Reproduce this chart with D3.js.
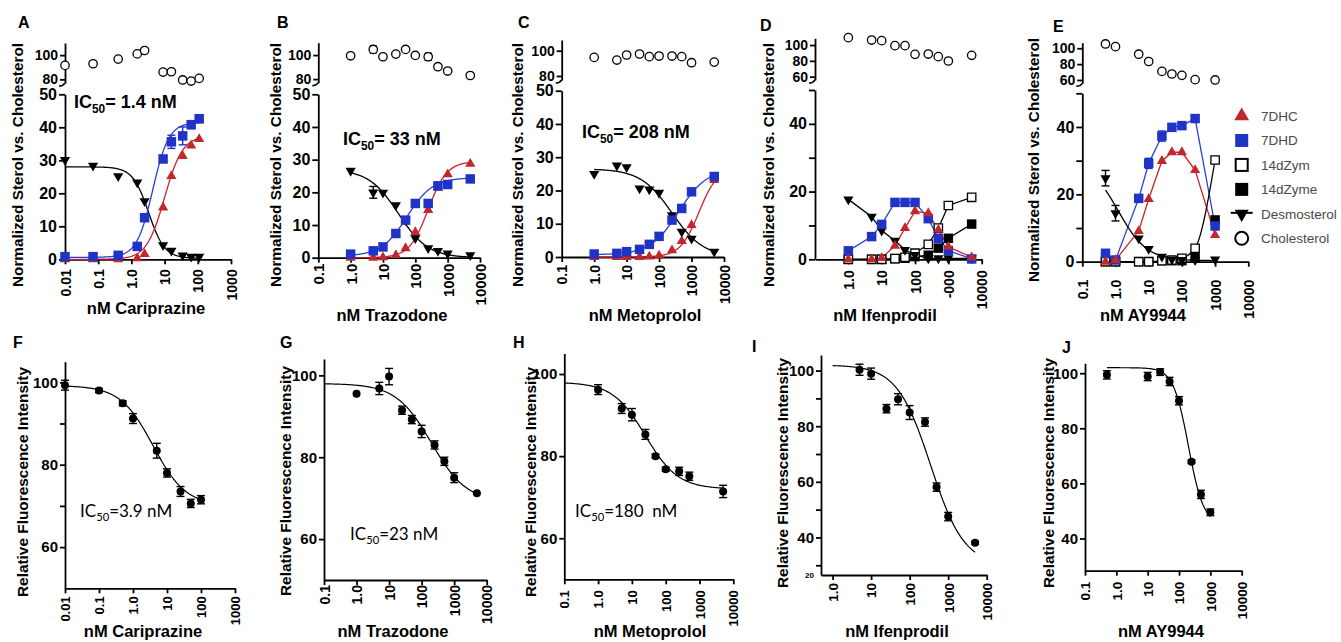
<!DOCTYPE html>
<html><head><meta charset="utf-8">
<script src="https://cdn.jsdelivr.net/npm/d3@7"></script>
<style>
html,body{margin:0;padding:0;background:#fff;}
svg{display:block;}
</style></head><body>
<svg id="chart" width="1341" height="642"></svg>
<script>
// ================= DATA =================
// Top row: sterol levels (normalized vs. cholesterol)
const concA = [0.01, 0.07, 0.4, 1.5, 2.5, 9, 16, 35, 63, 110];
const a7DHC = [0, 0, 0, 0.3, 1.6, 15.7, 25.2, 31.3, 34.5, 36.4];
const a7DHD = [0.8, 0.8, 1.2, 3.9, 12.6, 30.4, 35.6, 37.4, 40.8, 42.6];
const a7DHDErr = [0, 0, 0, 0, 0, 1, 2, 2.7, 1.2, 1.2];
const aDesm = [30.1, 28.4, 25.2, 23.3, 17.6, 4.3, 2.6, 1.2, 0.8, 0.8];
const aChol = [91.5, 92.9, 96.7, 101, 103.8, 86, 86.3, 79.5, 78.6, 80.8];

const concBCD = [1, 5, 10, 25, 50, 100, 250, 500, 1000, 5000];
const b7DHC = [0, 0, 0.1, 0.8, 2.9, 7.8, 14.6, 21.4, 25.5, 28.7];
const b7DHD = [1.1, 2.1, 3.3, 7.4, 11.5, 16.6, 16.6, 22, 22.4, 24.1];
const bDesm = [26.6, 20, 19.9, 16.1, 11.5, 6, 2.9, 2.1, 1.3, 0.8];
const bDesmErr = [0, 1.8, 0, 0, 0, 0, 0, 0, 0, 0];
const bChol = [99.4, 104.7, 98.6, 100.8, 104.7, 99.7, 98.6, 90.3, 86.7, 83];
const bCholErr = [0, 3, 0, 0, 0, 0, 3, 0, 0, 0];

const c7DHC = [0, 0, 0, 0, 0.1, 0.4, 2, 4.8, 9.6, 23.1];
const c7DHD = [0.9, 1.1, 1.6, 2.3, 3.8, 6.2, 11.1, 14.6, 19.6, 24.2];
const cDesm = [25, 27.5, 27, 20.6, 20.3, 19.3, 12.6, 7.6, 5.5, 1.6];
const cChol = [94.7, 92.6, 96.6, 97.4, 95.3, 95.8, 95.8, 95.3, 90.5, 91];
const cCholErr = [0, 0, 0, 0, 0, 0, 0, 0, 0, 1.5];

const d7DHC = [0, 0, 0.4, 4, 9.2, 14.2, 13.6, 8.7, 3.7, 0.6];
const d7DHD = [2.5, 6.7, 10.3, 16.8, 16.8, 16.8, 12, 6.2, 2.6, 0.1];
const dDesm = [17.7, 12.6, 8.5, 5.5, 2.8, 1.3, 0.3, 0.3, 0.3, 0.3];
const d14dZym = [0, 0, 0, 0.2, 0.6, 1.8, 4.4, 9.2, 15.9, 18.3];
const d14dZyme = [0, 0, 0, 0.2, 0.3, 0.8, 1.2, 3.3, 6.2, 10.4];
const dChol = [109.3, 106.3, 105.5, 99.2, 99.2, 88.2, 88.6, 85.3, 79.8, 87];

const concE = [0.5, 1, 5, 10, 25, 50, 100, 250, 1000];
const e7DHC = [0, 0.5, 9.1, 18.6, 29.9, 32.5, 32.5, 27.2, 7.9];
const e7DHD = [2.5, 0.5, 18.8, 29.2, 37.3, 39.9, 40.4, 42.5, 10.6];
const e7DHDErr = [0, 0, 0, 1.5, 1.5, 0.8, 0, 0, 0];
const eDesm = [24.8, 14.4, 6.9, 3.8, 1.5, 0.7, 0.5, 0.5, 0.7];
const eDesmErr = [2.3, 2.3, 0, 0, 0, 0, 0, 0, 0];
const e14dZym = [0, 0, 0, 0, 0.3, 0.5, 1, 4, 30.2];
const e14dZyme = [0, 0, 0, 0, 0.3, 0.3, 0.3, 1.3, 12.4];
const eChol = [105.4, 102, 92.5, 83.3, 70.8, 67.5, 65.8, 60.4, 60];
const eCholErr = [0, 3, 0, 0, 0, 0, 0, 0, 0];

// fitted 4-parameter curves: [bottom, top, IC50, hill]
const fitA7DHC = [0, 37.5, 10, 1.6];
const fitA7DHD = [0.6, 41.5, 4.4, 1.8];
const fitADesm = [0.3, 28, 3.3, -1.8];
const fitB7DHC = [0, 29.5, 250, 1.5];
const fitB7DHD = [0.5, 24.5, 55, 1.1];
const fitBDesm = [0, 27, 30, -0.95];
const fitC7DHC = [0, 27, 1700, 1.5];
const fitC7DHD = [0.7, 26.5, 400, 1];
const fitCDesm = [0, 26.5, 250, -0.9];
const fitEDesm = [0.3, 30, 1.2, -1];

// Bottom row: relative fluorescence intensity
const concF = [0.01, 0.1, 0.5, 1, 5, 10, 25, 50, 100];
const fVal = [99.3, 98, 94.9, 91.2, 83.4, 78, 73.5, 70.6, 71.5];
const fErr = [1.2, 0.5, 0.6, 1.2, 1.8, 1, 1.2, 1, 1];
const concG = [1, 5, 10, 25, 50, 100, 250, 500, 1000, 5000];
const gVal = [95.5, 96.8, 99.7, 91.5, 89.2, 86.3, 83, 79, 75, 71.2];
const gErr = [0, 1.5, 2, 1, 1, 1.5, 1, 1, 1.2, 0];
const concH = [1, 5, 10, 25, 50, 100, 250, 500, 5000];
const hVal = [96.2, 91.6, 90.1, 85.3, 80, 76.8, 76.3, 75.1, 71.4];
const hErr = [1.2, 1.2, 1.5, 1.2, 0.5, 0.5, 1, 1, 1.5];
const concI = [5, 10, 25, 50, 100, 250, 500, 1000, 5000];
const iVal = [100.3, 98.9, 86.3, 89.7, 84.9, 81.5, 58.1, 47.5, 38.1];
const iErr = [2, 2, 1.5, 2, 2.5, 1.5, 1.5, 1.5, 0.5];
const concJ = [0.5, 10, 25, 50, 100, 250, 500, 1000];
const jVal = [99.4, 98.8, 100.4, 97, 90, 67.9, 56, 49.5];
const jErr = [1.5, 1.5, 1.2, 1.5, 1.5, 0.5, 1.5, 1.2];

const fitF = [70, 99.2, 3.9, -0.9];
const fitG = [69, 98, 200, -0.8];
const fitH = [72, 98, 25, -0.9];
const fitI = [30, 102, 350, -1];
const fitJ = [45, 102, 200, -1.8];

// tick labels
const ticks2 = [0.01, 0.1, 1, 10, 100, 1000];
const ticks2Lab = ["0.01", "0.1", "1.0", "10", "100", "1000"];
const ticks1 = [0.1, 1, 10, 100, 1000, 10000];
const ticks1Lab = ["0.1", "1.0", "10", "100", "1000", "10000"];
const ticksD = [1, 10, 100, 1000, 10000];
const ticksDLab = ["1.0", "10", "100", "-000", "10000"];
const ticksI = [1, 10, 100, 1000, 10000];
const ticksILab = ["1.0", "10", "100", "1000", "10000"];
const legendNames = ["7DHC", "7DHD", "14dZym", "14dZyme", "Desmosterol", "Cholesterol"];

// ================= DRAWING =================
const svg = d3.select("#chart");
const FONT = "'Liberation Sans', Arial, Helvetica, sans-serif";
const RED = "#c1272d", BLUE = "#1f33c6", REDLINE = "#cc2229", BLUELINE = "#2b3fd4";
const SW = 1.8;

const symSq = d3.symbol().type(d3.symbolSquare).size(90)();
const symTri = d3.symbol().type(d3.symbolTriangle).size(45)();

function fourPL(p) { const [b, t, ic, h] = p; return x => b + (t - b) / (1 + Math.pow(ic / x, h)); }
function sampleLog(lo, hi, n) {
  const a = Math.log10(lo), c = Math.log10(hi);
  return d3.range(n + 1).map(i => Math.pow(10, a + (c - a) * i / n));
}
function styleAxis(gg, fs, weight) {
  gg.attr("font-size", null).attr("font-family", null);
  gg.select(".domain").attr("stroke", "#000").attr("stroke-width", SW);
  gg.selectAll(".tick line").attr("stroke", "#000").attr("stroke-width", SW);
  gg.selectAll(".tick text").attr("fill", "#000").style("font-family", FONT)
    .style("font-size", fs + "px").style("font-weight", weight || "bold");
}
function xAxisLog(g, x, y, vals, labs, off, fs) {
  const ax = d3.axisBottom(x).tickValues(vals).tickFormat((d, i) => labs[i]).tickSize(5).tickSizeOuter(0);
  const gg = g.append("g").attr("transform", `translate(0,${y})`).call(ax);
  styleAxis(gg, fs);
  gg.selectAll(".tick text").attr("transform", "rotate(-90)").attr("text-anchor", "end")
    .attr("x", -off).attr("y", 0).attr("dy", "0.36em");
}
function yAxisLin(g, y, xPos, vals, fmt, fs, tick) {
  const ax = d3.axisLeft(y).tickValues(vals).tickFormat(fmt).tickSize(tick || 5).tickSizeOuter(0).tickPadding(2);
  const gg = g.append("g").attr("transform", `translate(${xPos},0)`).call(ax);
  styleAxis(gg, fs);
}
function points(g, x, y, xs, ys, path, fill, stroke, rot) {
  g.append("g").selectAll("path").data(xs.map((c, i) => [c, ys[i]])).join("path")
    .attr("d", path)
    .attr("transform", d => `translate(${x(d[0])},${y(d[1])})${rot ? " rotate(180)" : ""}`)
    .attr("fill", fill).attr("stroke", stroke || "none").attr("stroke-width", 1.3);
}
function circles(g, x, y, xs, ys, r, fill, stroke) {
  g.append("g").selectAll("circle").data(xs.map((c, i) => [c, ys[i]])).join("circle")
    .attr("cx", d => x(d[0])).attr("cy", d => y(d[1])).attr("r", r)
    .attr("fill", fill).attr("stroke", stroke || "none").attr("stroke-width", 1.3);
}
function errBars(g, x, y, xs, ys, errs, color, cap) {
  const d = xs.map((c, i) => [c, ys[i], errs[i]]).filter(v => v[2] > 0);
  const gg = g.append("g").attr("stroke", color).attr("stroke-width", 1.4);
  d.forEach(v => {
    const cx = x(v[0]), y1 = y(v[1] - v[2]), y2 = y(v[1] + v[2]);
    gg.append("line").attr("x1", cx).attr("x2", cx).attr("y1", y1).attr("y2", y2);
    gg.append("line").attr("x1", cx - cap).attr("x2", cx + cap).attr("y1", y1).attr("y2", y1);
    gg.append("line").attr("x1", cx - cap).attr("x2", cx + cap).attr("y1", y2).attr("y2", y2);
  });
}
function fitCurve(g, x, y, p, lo, hi, color, w) {
  const f = fourPL(p);
  g.append("path").datum(sampleLog(lo, hi, 150))
    .attr("d", d3.line().x(d => x(d)).y(d => y(f(d))))
    .attr("fill", "none").attr("stroke", color).attr("stroke-width", w || 1.3);
}
function polyline(g, x, y, xs, ys, color, curve) {
  g.append("path").datum(xs.map((c, i) => [c, ys[i]]))
    .attr("d", d3.line().x(d => x(d[0])).y(d => y(d[1])).curve(curve || d3.curveLinear))
    .attr("fill", "none").attr("stroke", color).attr("stroke-width", 1.3);
}
function txt(s, x, y, fs, weight, anchor, fill) {
  return svg.append("text").attr("x", x).attr("y", y).attr("font-size", fs)
    .attr("font-weight", weight || "bold").attr("font-family", FONT)
    .attr("text-anchor", anchor || "start").attr("fill", fill || "#000").text(s);
}
function vtxt(s, cx, cy, fs) {
  svg.append("text").attr("transform", `translate(${cx},${cy}) rotate(-90)`)
    .attr("text-anchor", "middle").attr("dy", "0.36em").attr("font-size", fs)
    .attr("font-weight", "bold").attr("font-family", FONT).text(s);
}
function ic50(rest, x, y, fs, weight, family) {
  const t = svg.append("text").attr("x", x).attr("y", y).attr("font-size", fs)
    .attr("font-weight", weight).attr("font-family", family || FONT)
    .attr("xml:space", "preserve").style("white-space", "pre");
  t.append("tspan").text("IC");
  t.append("tspan").attr("dy", fs * 0.25).attr("font-size", fs * 0.66).text("50");
  t.append("tspan").attr("dy", -fs * 0.25).text(rest);
}

function topFrame(c) {
  const g = svg.append("g");
  const x = d3.scaleLog().domain(c.xd).range(c.xr);
  const y = d3.scaleLinear().domain([0, 50]).range([c.y0, c.y50]);
  const yt = d3.scaleLinear().domain(c.td).range(c.tr);
  xAxisLog(g, x, c.y0, c.xt, c.xl, c.off, c.xfs);
  yAxisLin(g, y, c.xr[0], [0, 10, 20, 30, 40, 50], c.sparse ? (d => d % 20 === 0 ? d : "") : (d => d), 16, 6);
  yAxisLin(g, yt, c.xr[0], c.tt, d => d, 14, 5);
  g.append("path").attr("d", `M${c.xr[0]},${c.tr[0]} q-2,3 -6,3`).attr("fill", "none")
    .attr("stroke", "#000").attr("stroke-width", 1.5);
  txt(c.letter, c.lx, c.ly, 16);
  vtxt("Normalized Sterol vs. Cholesterol", c.ytx, c.yty, 15.3);
  txt(c.title, c.tx, c.ty, 16.5, "bold", "middle");
  return { g, x, y, yt };
}
function botFrame(c) {
  const g = svg.append("g");
  const x = d3.scaleLog().domain(c.xd).range(c.xr);
  const y = d3.scaleLinear().domain(c.yd).range(c.yr);
  xAxisLog(g, x, c.yr[0], c.xt, c.xl, c.off, c.xfs);
  yAxisLin(g, y, c.xr[0], c.yt, d => (c.ylab.indexOf(d) >= 0 ? d : ""), 15, 5);
  txt(c.letter, c.lx, c.ly, 16);
  vtxt("Relative Fluorescence Intensity", c.ytx, c.yty, 15.4);
  txt(c.title, c.tx, c.ty, 16.5, "bold", "middle");
  return { g, x, y };
}
const ICFONT = "Lato, 'Liberation Sans', sans-serif";

// ---------- Panel A ----------
{
  const P = topFrame({ letter: "A", lx: 18, ly: 28, xd: [0.01, 1000], xr: [65, 231], xt: ticks2, xl: ticks2Lab,
    off: 10, xfs: 14, y0: 259.3, y50: 94.3, td: [77, 110], tr: [83, 43], tt: [80, 100],
    ytx: 17, yty: 165, title: "nM Cariprazine", tx: 146, ty: 314 });
  fitCurve(P.g, P.x, P.y, fitADesm, 0.01, 110, "#000");
  fitCurve(P.g, P.x, P.y, fitA7DHD, 0.01, 110, BLUELINE);
  fitCurve(P.g, P.x, P.y, fitA7DHC, 0.01, 110, REDLINE);
  errBars(P.g, P.x, P.y, concA, a7DHD, a7DHDErr, BLUE, 4);
  points(P.g, P.x, P.y, concA, a7DHC, symTri, RED);
  points(P.g, P.x, P.y, concA, aDesm, symTri, "#000", null, true);
  points(P.g, P.x, P.y, concA, a7DHD, symSq, BLUE);
  circles(P.g, P.x, P.yt, concA, aChol, 4.2, "#fff", "#000");
  ic50("= 1.4 nM", 74, 108, 18, "bold");
}
// ---------- Panel B ----------
{
  const P = topFrame({ letter: "B", lx: 277, ly: 28, xd: [0.1, 10000], xr: [318.3, 480], xt: ticks1, xl: ticks1Lab,
    off: 6, xfs: 15, y0: 257.7, y50: 94.3, td: [77, 110.3], tr: [82.7, 42.7], tt: [80, 100],
    ytx: 275, yty: 165, title: "nM Trazodone", tx: 392, ty: 321 });
  fitCurve(P.g, P.x, P.y, fitBDesm, 1, 5000, "#000");
  fitCurve(P.g, P.x, P.y, fitB7DHD, 1, 5000, BLUELINE);
  fitCurve(P.g, P.x, P.y, fitB7DHC, 1, 5000, REDLINE);
  errBars(P.g, P.x, P.y, concBCD, bDesm, bDesmErr, "#000", 4);
  errBars(P.g, P.x, P.yt, concBCD, bChol, bCholErr, "#000", 3.5);
  points(P.g, P.x, P.y, concBCD, b7DHC, symTri, RED);
  points(P.g, P.x, P.y, concBCD, bDesm, symTri, "#000", null, true);
  points(P.g, P.x, P.y, concBCD, b7DHD, symSq, BLUE);
  circles(P.g, P.x, P.yt, concBCD, bChol, 4.2, "#fff", "#000");
  ic50("= 33 nM", 343, 145, 18, "bold");
}
// ---------- Panel C ----------
{
  const P = topFrame({ letter: "C", lx: 518, ly: 28, xd: [0.1, 10000], xr: [561.7, 724], xt: ticks1, xl: ticks1Lab,
    off: 8, xfs: 14, y0: 257, y50: 90.7, td: [76.8, 108.5], tr: [80, 40], tt: [80, 100],
    ytx: 517, yty: 165, title: "nM Metoprolol", tx: 645, ty: 321 });
  fitCurve(P.g, P.x, P.y, fitCDesm, 1, 5000, "#000");
  fitCurve(P.g, P.x, P.y, fitC7DHD, 1, 5000, BLUELINE);
  fitCurve(P.g, P.x, P.y, fitC7DHC, 1, 5000, REDLINE);
  errBars(P.g, P.x, P.yt, concBCD, cChol, cCholErr, "#000", 3.5);
  points(P.g, P.x, P.y, concBCD, c7DHC, symTri, RED);
  points(P.g, P.x, P.y, concBCD, cDesm, symTri, "#000", null, true);
  points(P.g, P.x, P.y, concBCD, c7DHD, symSq, BLUE);
  circles(P.g, P.x, P.yt, concBCD, cChol, 4.2, "#fff", "#000");
  ic50("= 208 nM", 582, 138, 18, "bold");
}
// ---------- Panel D ----------
{
  const P = topFrame({ letter: "D", lx: 760, ly: 31, xd: [0.1, 10000], xr: [815, 981.7], xt: ticksD, xl: ticksDLab,
    off: 11, xfs: 14, y0: 259.3, y50: 90, td: [55.8, 108.5], tr: [80, 38.3], tt: [60, 80, 100], sparse: true,
    ytx: 768, yty: 165, title: "nM Ifenprodil", tx: 885, ty: 321 });
  polyline(P.g, P.x, P.y, concBCD, d7DHD, BLUELINE);
  polyline(P.g, P.x, P.y, concBCD, d7DHC, REDLINE);
  polyline(P.g, P.x, P.y, concBCD, dDesm, "#000");
  polyline(P.g, P.x, P.y, concBCD, d14dZym, "#000");
  polyline(P.g, P.x, P.y, concBCD, d14dZyme, "#000");
  points(P.g, P.x, P.y, concBCD, d14dZyme, symSq, "#000");
  points(P.g, P.x, P.y, concBCD, d14dZym, d3.symbol().type(d3.symbolSquare).size(70)(), "#fff", "#000");
  points(P.g, P.x, P.y, concBCD, dDesm, symTri, "#000", null, true);
  points(P.g, P.x, P.y, concBCD, d7DHD, symSq, BLUE);
  points(P.g, P.x, P.y, concBCD, d7DHC, symTri, RED);
  circles(P.g, P.x, P.yt, concBCD, dChol, 4.2, "#fff", "#000");
}
// ---------- Panel E ----------
{
  const P = topFrame({ letter: "E", lx: 1053, ly: 32, xd: [0.1, 10000], xr: [1082.3, 1248.3], xt: ticks1, xl: ticks1Lab,
    off: 18, xfs: 14, y0: 261.7, y50: 93.3, td: [55.8, 107], tr: [83.3, 42.7], tt: [60, 80, 100], sparse: true,
    ytx: 1033, yty: 160, title: "nM AY9944", tx: 1143, ty: 321 });
  polyline(P.g, P.x, P.y, concE, e7DHD, BLUELINE);
  polyline(P.g, P.x, P.y, concE, e7DHC, REDLINE);
  fitCurve(P.g, P.x, P.y, fitEDesm, 0.5, 1000, "#000");
  polyline(P.g, P.x, P.y, concE, e14dZym, "#000", d3.curveMonotoneX);
  errBars(P.g, P.x, P.y, concE, e7DHD, e7DHDErr, BLUE, 4);
  errBars(P.g, P.x, P.y, concE, eDesm, eDesmErr, "#000", 4);
  errBars(P.g, P.x, P.yt, concE, eChol, eCholErr, "#000", 3.5);
  points(P.g, P.x, P.y, concE, e14dZyme, symSq, "#000");
  points(P.g, P.x, P.y, concE, e14dZym, d3.symbol().type(d3.symbolSquare).size(70)(), "#fff", "#000");
  points(P.g, P.x, P.y, concE, eDesm, symTri, "#000", null, true);
  points(P.g, P.x, P.y, concE, e7DHD, symSq, BLUE);
  points(P.g, P.x, P.y, concE, e7DHC, symTri, RED);
  circles(P.g, P.x, P.yt, concE, eChol, 4.2, "#fff", "#000");

  // legend
  const lg = svg.append("g");
  const ly = d3.scalePoint().domain(legendNames).range([116, 238.3]);
  const mx = 1241.7;
  legendNames.forEach(n => {
    const cy = ly(n);
    if (n === "7DHC") lg.append("path").attr("d", d3.symbol().type(d3.symbolTriangle).size(95)()).attr("transform", `translate(${mx},${cy})`).attr("fill", RED);
    if (n === "7DHD") lg.append("rect").attr("x", mx - 6.5).attr("y", cy - 6.5).attr("width", 13).attr("height", 13).attr("fill", BLUE);
    if (n === "14dZym") lg.append("rect").attr("x", mx - 6).attr("y", cy - 6).attr("width", 12).attr("height", 12).attr("fill", "#fff").attr("stroke", "#000").attr("stroke-width", 2);
    if (n === "14dZyme") lg.append("rect").attr("x", mx - 6.5).attr("y", cy - 6.5).attr("width", 13).attr("height", 13).attr("fill", "#000");
    if (n === "Desmosterol") {
      lg.append("line").attr("x1", mx - 11).attr("x2", mx + 11).attr("y1", cy - 1).attr("y2", cy - 1).attr("stroke", "#000").attr("stroke-width", 2);
      lg.append("path").attr("d", d3.symbol().type(d3.symbolTriangle).size(85)()).attr("transform", `translate(${mx},${cy}) rotate(180)`).attr("fill", "#000");
    }
    if (n === "Cholesterol") lg.append("circle").attr("cx", mx).attr("cy", cy).attr("r", 6.5).attr("fill", "#fff").attr("stroke", "#000").attr("stroke-width", 2);
    lg.append("text").attr("x", 1261).attr("y", cy).attr("dy", "0.36em").attr("font-size", 13.5)
      .attr("font-family", FONT).attr("fill", "#4a4a4a").text(n);
  });
}

// ---------- Panel F ----------
{
  const P = botFrame({ letter: "F", lx: 13, ly: 348, xd: [0.01, 1000], xr: [65, 235], xt: ticks2, xl: ticks2Lab, off: 8, xfs: 13,
    yd: [50, 105], yr: [588.3, 361.7], yt: [60, 70, 80, 90, 100], ylab: [60, 80, 100],
    ytx: 22, yty: 482, title: "nM Cariprazine", tx: 143, ty: 637 });
  fitCurve(P.g, P.x, P.y, fitF, 0.01, 100, "#000", 1.2);
  errBars(P.g, P.x, P.y, concF, fVal, fErr, "#000", 4);
  circles(P.g, P.x, P.y, concF, fVal, 4, "#000");
  ic50("=3.9 nM", 80, 517, 17, "normal", ICFONT);
}
// ---------- Panel G ----------
{
  const P = botFrame({ letter: "G", lx: 280, ly: 348, xd: [0.1, 10000], xr: [324, 486.7], xt: ticks1, xl: ticks1Lab, off: 5, xfs: 14,
    yd: [50, 104], yr: [580, 359], yt: [60, 80, 100], ylab: [60, 80, 100],
    ytx: 285, yty: 481, title: "nM Trazodone", tx: 393, ty: 637 });
  fitCurve(P.g, P.x, P.y, fitG, 0.1, 5000, "#000", 1.2);
  errBars(P.g, P.x, P.y, concG, gVal, gErr, "#000", 4);
  circles(P.g, P.x, P.y, concG, gVal, 4, "#000");
  ic50("=23 nM", 350, 540, 17, "normal", ICFONT);
}
// ---------- Panel H ----------
{
  const P = botFrame({ letter: "H", lx: 513, ly: 348, xd: [0.1, 10000], xr: [564.3, 733.3], xt: ticks1, xl: ticks1Lab, off: 11, xfs: 13,
    yd: [50, 105], yr: [579.3, 353.5], yt: [60, 80, 100], ylab: [60, 80, 100],
    ytx: 530, yty: 482, title: "nM Metoprolol", tx: 650, ty: 637 });
  fitCurve(P.g, P.x, P.y, fitH, 0.1, 5000, "#000", 1.2);
  errBars(P.g, P.x, P.y, concH, hVal, hErr, "#000", 4);
  circles(P.g, P.x, P.y, concH, hVal, 4, "#000");
  ic50("=180  nM", 575, 517, 17, "normal", ICFONT);
}
// ---------- Panel I ----------
{
  const P = botFrame({ letter: "I", lx: 752, ly: 352, xd: [0.5, 10000], xr: [821, 986.7], xt: ticksI, xl: ticksILab, off: 8, xfs: 13.5,
    yd: [26.5, 105.6], yr: [575, 355], yt: [30, 40, 50, 60, 70, 80, 90, 100], ylab: [40, 60, 80, 100],
    ytx: 782, yty: 473, title: "nM Ifenprodil", tx: 897, ty: 637 });
  txt("20", 814, P.y(26.5) + 3, 8, "bold", "end");
  fitCurve(P.g, P.x, P.y, fitI, 1, 5000, "#000", 1.2);
  errBars(P.g, P.x, P.y, concI, iVal, iErr, "#000", 4);
  circles(P.g, P.x, P.y, concI, iVal, 4, "#000");
}
// ---------- Panel J ----------
{
  const P = botFrame({ letter: "J", lx: 1062, ly: 353, xd: [0.1, 10000], xr: [1085, 1241.7], xt: ticks1, xl: ticks1Lab, off: 11, xfs: 13.5,
    yd: [28.3, 103.6], yr: [570.7, 363.3], yt: [40, 60, 80, 100], ylab: [40, 60, 80, 100],
    ytx: 1048, yty: 473, title: "nM AY9944", tx: 1161, ty: 637 });
  fitCurve(P.g, P.x, P.y, fitJ, 0.5, 1000, "#000", 1.2);
  errBars(P.g, P.x, P.y, concJ, jVal, jErr, "#000", 4);
  circles(P.g, P.x, P.y, concJ, jVal, 4, "#000");
}
</script>
</body></html>
